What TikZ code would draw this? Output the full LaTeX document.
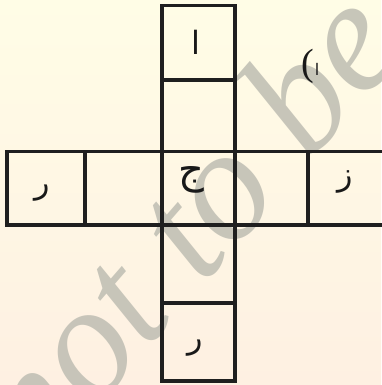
\documentclass[tikz,border=0pt]{standalone}
\usepackage{fontspec}
\setmainfont{Liberation Serif}
\newfontfamily\arabicfont[Script=Arabic]{DejaVu Sans}
\TeXXeTstate=1
\begin{document}
\begin{tikzpicture}[x=1pt,y=-1pt,
  cell/.style={draw=black!88,line width=3.4pt,inner sep=0pt,outer sep=0pt,rectangle},
  letter/.style={inner sep=0pt,font=\arabicfont\fontsize{32}{36}\selectfont,text=black!90}]
\useasboundingbox (0,0) rectangle (381,385);
\shade[top color={rgb,255:red,255;green,253;blue,230},bottom color={rgb,255:red,254;green,240;blue,226}] (0,0) rectangle (381,385);
% watermark
\node[rotate=49,font=\itshape\fontsize{160}{160}\selectfont,text={rgb,255:red,190;green,189;blue,178},opacity=0.85,inner sep=0pt] (wm) at (184,224) {not to be};
% cells
\node[cell,minimum width=73pt,minimum height=74.5pt] (t1) at (198.5,42.75) {};
\node[cell,minimum width=73pt,minimum height=71.5pt] (t2) at (198.5,115.75) {};
\node[cell,minimum width=78pt,minimum height=73.5pt] (l1) at (46,188.25) {};
\node[cell,minimum width=77pt,minimum height=73.5pt] (l2) at (123.5,188.25) {};
\node[cell,minimum width=73pt,minimum height=73.5pt] (c) at (198.5,188.25) {};
\node[cell,minimum width=73pt,minimum height=73.5pt] (r1) at (271.5,188.25) {};
\node[cell,minimum width=78pt,minimum height=73.5pt] (r2) at (347,188.25) {};
\node[cell,minimum width=73pt,minimum height=78pt] (b1) at (198.5,264) {};
\node[cell,minimum width=73pt,minimum height=78pt] (b2) at (198.5,342) {};
% letters
\node[letter] (la) at (196,42) {\beginR ا\endR};
\node[letter] (lr) at (42,193) {\beginR ر\endR};
\node[letter,font=\arabicfont\fontsize{40}{44}\selectfont] (lj) at (191,180) {\beginR ج\endR};
\node[letter] (lz) at (345,182) {\beginR ز\endR};
\node[letter] (lb) at (195,348) {\beginR ر\endR};
\node[inner sep=0pt,text=black!90,anchor=base west] (lab) at (301,76) {{\fontsize{38}{40}\selectfont (}\kern1pt{\arabicfont\fontsize{16}{18}\selectfont ا}};
\end{tikzpicture}
\end{document}
